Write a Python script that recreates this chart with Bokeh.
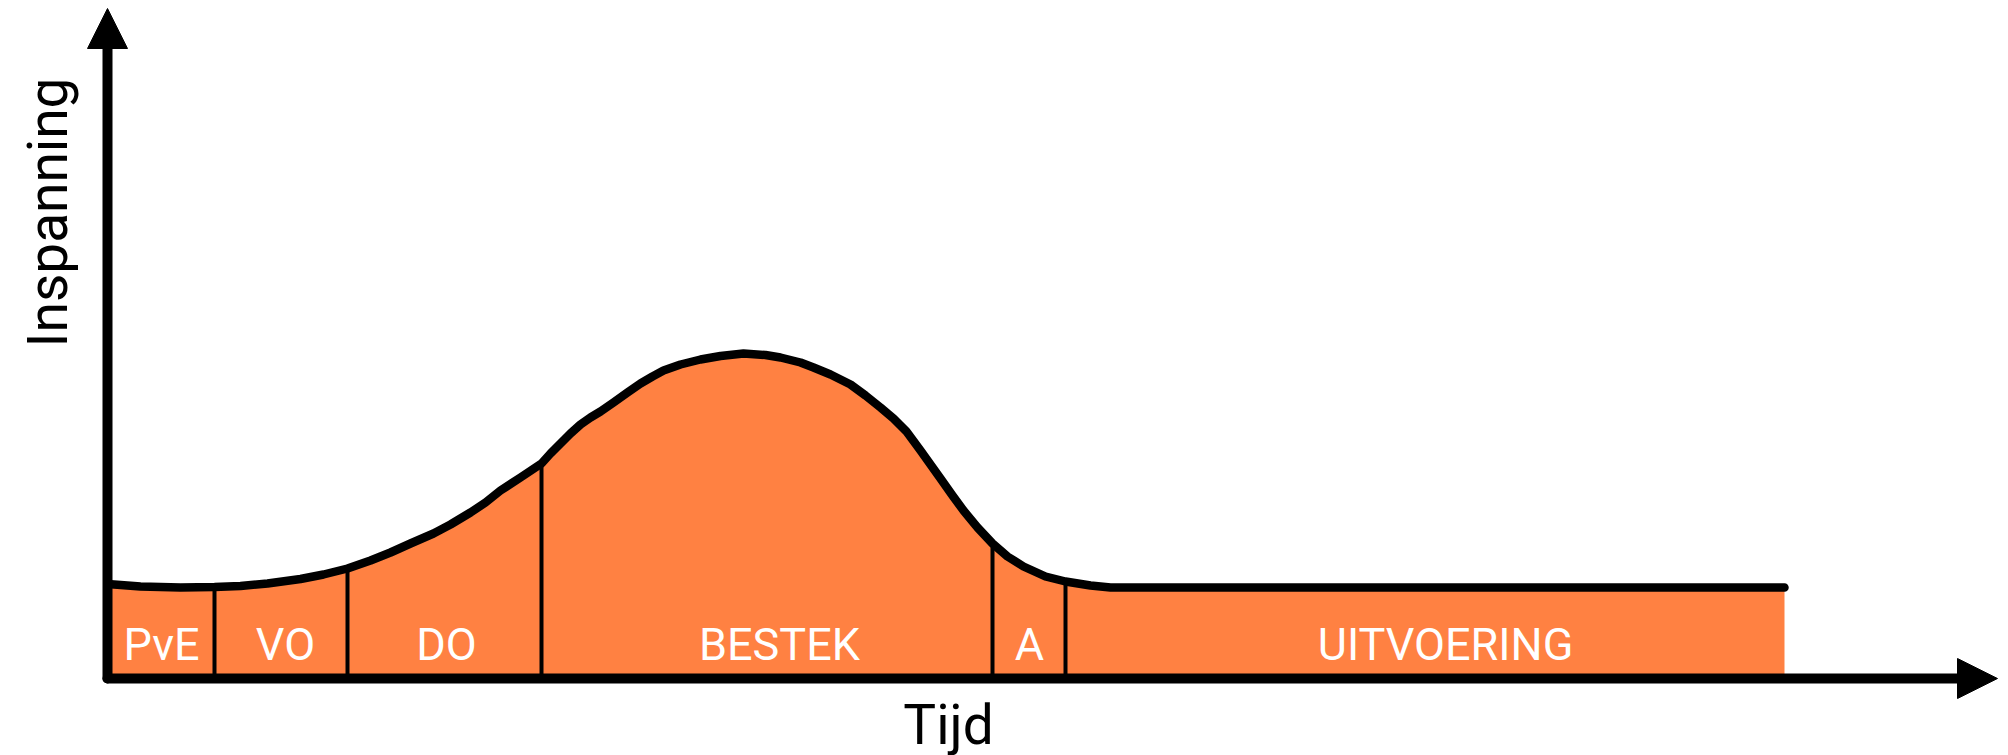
from bokeh.plotting import figure
from bokeh.models import Range1d, Arrow, NormalHead, Label
from bokeh.core.properties import value
from bokeh.embed import file_html
from bokeh.resources import INLINE
import math

# Effort (Inspanning) over time (Tijd), arbitrary units
tijd = [0, 33, 73, 107, 133, 160, 193, 216, 240, 263, 283, 303, 326, 343, 363, 378,
        393, 413, 434, 443, 453, 463, 473, 483, 493, 506, 520, 533, 545, 556, 573,
        593, 613, 636, 658, 673, 693, 706, 723, 743, 758, 773, 786, 799, 813, 833,
        845, 856, 870, 885, 900, 916, 938, 958, 983, 1003, 1677]
inspanning = [94.5, 92, 91, 91.5, 92.5, 95, 99.5, 104, 110, 118, 126, 135, 145, 154, 166, 176,
              188, 201, 215, 225, 235, 245, 254, 261, 267, 276, 286, 295, 302, 308, 314,
              319, 322.5, 325, 323.5, 321, 316, 311, 304, 294, 283, 271, 260, 247, 228, 200,
              183, 168, 151, 135, 122, 112, 102, 97, 93, 91, 91]

# Phases
fasen = ["PvE", "VO", "DO", "BESTEK", "A", "UITVOERING"]
fase_label_x = [54, 178, 339, 672, 922, 1338]
fase_label_y = [34, 34, 34, 34, 34, 34]
grens_x = [107, 240, 434, 885, 958]
grens_hoogte = [91.5, 110, 215, 135, 97]

ORANGE = "#FF8142"

p = figure(width=2008, height=755, x_range=Range1d(-107, 1901), y_range=Range1d(-77, 678),
           output_backend="svg", toolbar_location=None, min_border=0,
           x_axis_location=None, y_axis_location=None)
p.grid.visible = False
p.outline_line_color = None
p.background_fill_color = "white"

p.varea(x=tijd, y1=[0] * len(tijd), y2=inspanning, fill_color=ORANGE)
p.segment(x0=grens_x, y0=[0] * len(grens_x), x1=grens_x, y1=grens_hoogte,
          line_color="black", line_width=4)
p.line(tijd, inspanning, line_color="black", line_width=8.5, line_cap="round", line_join="round")

p.text(x=fase_label_x, y=fase_label_y, text=fasen, text_color="white",
       text_font=value("Roboto"), text_font_size="45px", text_align="center",
       text_baseline="alphabetic")

# Axes drawn as arrows
p.line([0, 0], [0, 640], line_color="black", line_width=10, line_cap="round")
p.line([0, 1860], [0, 0], line_color="black", line_width=10, line_cap="round")
p.add_layout(Arrow(x_start=0, y_start=630, x_end=0, y_end=670, line_alpha=0, line_width=0,
                   end=NormalHead(size=40, fill_color="black", line_color="black", line_width=1)))
p.add_layout(Arrow(x_start=1850, y_start=0, x_end=1890, y_end=0, line_alpha=0, line_width=0,
                   end=NormalHead(size=40, fill_color="black", line_color="black", line_width=1)))

p.add_layout(Label(x=841, y=-46, text="Tijd", text_font="Roboto", text_font_size="55px",
                   text_align="center", text_baseline="alphabetic", text_color="black"))
p.add_layout(Label(x=-60, y=466, text="Inspanning", text_font="Roboto", text_font_size="55px",
                   text_align="center", text_baseline="alphabetic", text_color="black",
                   angle=math.pi / 2))

open("out.html", "w").write(file_html(p, INLINE))
